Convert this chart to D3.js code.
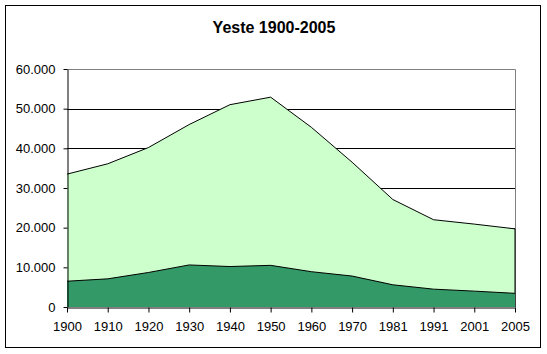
<!DOCTYPE html>
<html>
<head>
<meta charset="utf-8">
<script src="https://cdn.jsdelivr.net/npm/d3@7"></script>
<style>
  body { margin: 0; background: #fff; }
  text { font-family: "Liberation Sans", Arial, sans-serif; }
</style>
</head>
<body>
<div id="chart"></div>
<script>
// data
var years = ["1900", "1910", "1920", "1930", "1940", "1950", "1960", "1970", "1981", "1991", "2001", "2005"];
var total = [33500, 36100, 40200, 46000, 51000, 52900, 45300, 36500, 27100, 22000, 20900, 19700];
var nucleo = [6500, 7100, 8700, 10600, 10200, 10500, 8900, 7800, 5600, 4500, 4000, 3450];
var yTicks = [0, 10000, 20000, 30000, 40000, 50000, 60000];

var W = 547, H = 354;
var margin = {top: 69, right: 32, bottom: 47, left: 67};
var width = W - margin.left - margin.right,
    height = H - margin.top - margin.bottom;

var svg = d3.select("#chart")
  .append("svg")
    .attr("width", W)
    .attr("height", H);

// outer chart border
svg.append("rect")
  .attr("x", 5.5).attr("y", 5.5)
  .attr("width", 535).attr("height", 342)
  .attr("fill", "#fff")
  .attr("stroke", "#000")
  .attr("stroke-width", 1);

svg.append("text")
  .attr("x", 274).attr("y", 33)
  .attr("text-anchor", "middle")
  .style("font-size", "16px")
  .style("font-weight", "bold")
  .text("Yeste 1900-2005");

var g = svg.append("g")
  .attr("transform", "translate(" + margin.left + "," + margin.top + ")");

var x = d3.scalePoint()
  .domain(years)
  .range([0, width]);

var y = d3.scaleLinear()
  .domain([0, 60000])
  .range([height, 0]);

var fmt = function(d) { return d3.format(",")(d).replace(/,/g, "."); };

// plot area frame (grey)
g.append("path")
  .attr("d", "M0.5,0.5H" + (width + 0.5) + "V" + height)
  .attr("fill", "none")
  .attr("stroke", "#808080");

// gridlines
g.selectAll(".grid")
  .data(yTicks.filter(function(d) { return d > 0 && d < 60000; }))
  .enter().append("line")
    .attr("x1", 0).attr("x2", width)
    .attr("y1", function(d) { return Math.round(y(d)) + 0.5; })
    .attr("y2", function(d) { return Math.round(y(d)) + 0.5; })
    .attr("stroke", "#000");

var rows = years.map(function(yr, i) { return {year: yr, total: total[i], nucleo: nucleo[i]}; });

var areaOf = function(key) {
  return d3.area()
    .x(function(d) { return x(d.year); })
    .y0(y(0))
    .y1(function(d) { return y(d[key]); });
};
var lineOf = function(key) {
  return d3.line()
    .x(function(d) { return x(d.year); })
    .y(function(d) { return y(d[key]); });
};

g.append("path").datum(rows)
  .attr("d", areaOf("total"))
  .attr("fill", "#ccffcc");
g.append("path").datum(rows)
  .attr("d", lineOf("total"))
  .attr("fill", "none").attr("stroke", "#000").attr("stroke-width", 1);
// right edge of the light area
g.append("line")
  .attr("x1", width).attr("x2", width)
  .attr("y1", y(total[total.length - 1])).attr("y2", height)
  .attr("stroke", "#000");

g.append("path").datum(rows)
  .attr("d", areaOf("nucleo"))
  .attr("fill", "#339966");
g.append("path").datum(rows)
  .attr("d", lineOf("nucleo"))
  .attr("fill", "none").attr("stroke", "#000").attr("stroke-width", 1);

// Y axis
g.append("g")
  .attr("transform", "translate(0.5,0)")
  .call(d3.axisLeft(y).tickValues(yTicks).tickSize(4).tickSizeOuter(0).tickFormat(fmt))
  .call(function(a) {
    a.select(".domain").attr("stroke", "#000");
    a.selectAll(".tick line").attr("stroke", "#000");
    a.selectAll("text").attr("x", -12).style("font-size", "13px").attr("fill", "#000");
  });

// X axis
g.append("g")
  .attr("transform", "translate(0," + (height + 0.5) + ")")
  .call(d3.axisBottom(x).tickSize(5).tickSizeOuter(0))
  .call(function(a) {
    a.select(".domain").attr("stroke", "#000");
    a.selectAll(".tick line").attr("stroke", "#000");
    a.selectAll("text").attr("y", 14).style("font-size", "13px").attr("fill", "#000");
  });
</script>
</body>
</html>
